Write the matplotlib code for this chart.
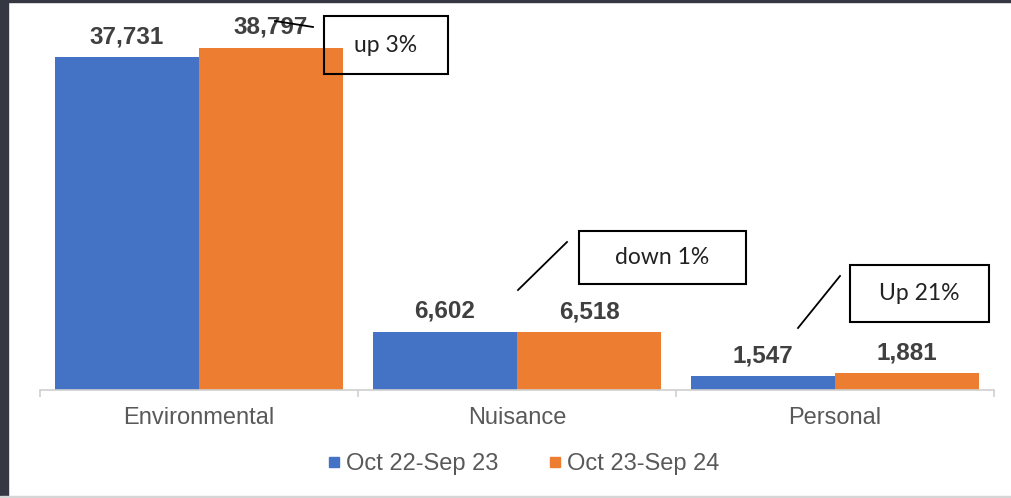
import matplotlib
matplotlib.use("Agg")
import matplotlib.pyplot as plt
import matplotlib.patches as patches
from matplotlib.lines import Line2D

categories = ["Environmental", "Nuisance", "Personal"]
series_names = ["Oct 22-Sep 23", "Oct 23-Sep 24"]
prev_year = [37731, 6602, 1547]
this_year = [38797, 6518, 1881]
change_notes = ["up 3%", "down 1%", "Up 21%"]

blue = "#4472C4"
orange = "#ED7D31"
W, H = 1012, 498

fig = plt.figure(figsize=(W / 100, H / 100), dpi=100)

# screenshot frame (dark strip left/top, light line at bottom)
fig.patches.append(patches.Rectangle((0, 0), 8 / W, 1, transform=fig.transFigure,
                                     color="#353842", zorder=0))
fig.patches.append(patches.Rectangle((0, 1 - 2.5 / H), 1, 2.5 / H, transform=fig.transFigure,
                                     color="#353842", zorder=0))
fig.patches.append(patches.Rectangle((0, 0), 1, 2 / H, transform=fig.transFigure,
                                     color="#d6d6d6", zorder=0))

# axes: baseline at y=390px, x from 40 to 994 px
ax = fig.add_axes([40 / W, (H - 390) / H, 954 / W, 385 / H])
ax.set_xlim(-0.5, 2.5)
ax.set_ylim(0, 43620)

bw = 0.453
xs = list(range(len(categories)))
b1 = ax.bar([x - bw / 2 for x in xs], prev_year, width=bw, color=blue, label=series_names[0])
b2 = ax.bar([x + bw / 2 for x in xs], this_year, width=bw, color=orange, label=series_names[1])

for bars, vals in ((b1, prev_year), (b2, this_year)):
    for rect, v in zip(bars, vals):
        ax.annotate(f"{v:,}", (rect.get_x() + rect.get_width() / 2, v),
                    xytext=(0, 10), textcoords="offset points", ha="center", va="baseline",
                    fontsize=17.5, fontweight="bold", color="#404040", family="Liberation Sans")

for s in ("top", "right", "left"):
    ax.spines[s].set_visible(False)
ax.spines["bottom"].set_color("#d0d0d0")
ax.spines["bottom"].set_linewidth(1.2)
ax.set_yticks([])
ax.set_xticks(xs)
ax.set_xticklabels(categories, fontsize=17, color="#595959", family="Liberation Sans")
ax.tick_params(axis="x", which="major", length=0, pad=12)
ax.set_xticks([-0.5, 0.5, 1.5, 2.5], minor=True)
ax.tick_params(axis="x", which="minor", length=5, color="#d0d0d0", width=1.2)

# legend
handles = [Line2D([], [], marker="s", linestyle="none", markersize=7, color=blue),
           Line2D([], [], marker="s", linestyle="none", markersize=7, color=orange)]
fig.legend(handles, series_names, loc="center", bbox_to_anchor=(522 / W, 1 - 464 / H),
           ncol=2, frameon=False, handletextpad=0.1, columnspacing=2.0, handlelength=0.8,
           prop={"family": "Liberation Sans", "size": 17}, labelcolor="#595959")

# callout boxes and connector lines (pixel positions of the hand-drawn shapes)
boxes = [(324, 16, 448, 74), (579, 231, 746, 284), (850, 265, 989, 322)]
lines = [((275, 21), (313, 27)), ((518, 290), (567, 242)), ((798, 328), (840, 276))]

for (x0, y0, x1, y1), note in zip(boxes, change_notes):
    fig.patches.append(patches.Rectangle((x0 / W, 1 - y1 / H), (x1 - x0) / W, (y1 - y0) / H,
                                         transform=fig.transFigure, fill=False,
                                         edgecolor="black", linewidth=1.5, zorder=5))
    fig.text((x0 + x1) / 2 / W, 1 - (y0 + y1) / 2 / H, note, ha="center", va="center",
             fontsize=16.5, family="Lato", color="#222222", zorder=6)

for (p0, p1) in lines:
    fig.add_artist(Line2D([p0[0] / W, p1[0] / W], [1 - p0[1] / H, 1 - p1[1] / H],
                          transform=fig.transFigure, color="black", linewidth=1.3, zorder=6))

fig.savefig("out.png", dpi=100)
